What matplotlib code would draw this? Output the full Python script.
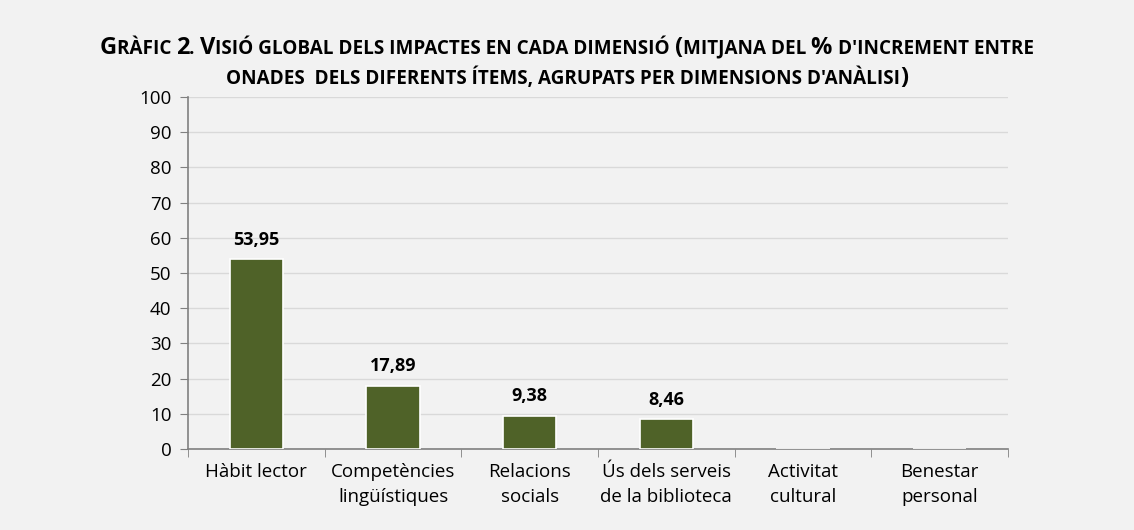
import numpy as np
import matplotlib.pyplot as plt
from matplotlib.offsetbox import TextArea, HPacker, AnchoredOffsetbox

# Data
categories = ["Hàbit lector", "Competències\nlingüístiques", "Relacions\nsocials",
              "Ús dels serveis\nde la biblioteca", "Activitat\ncultural", "Benestar\npersonal"]
values = [53.95, 17.89, 9.38, 8.46, 0, 0]
y_ticks = [0, 10, 20, 30, 40, 50, 60, 70, 80, 90, 100]

title_lines = [
    "Gràfic 2. Visió global dels impactes en cada dimensió (mitjana del % d'increment entre",
    "onades  dels diferents ítems, agrupats per dimensions d'anàlisi)",
]

bg = "#f2f2f2"
bar_color = "#4f6228"
font = "Open Sans"

fig = plt.figure(figsize=(11.34, 5.30), dpi=100, facecolor=bg)
ax = fig.add_axes([0.1658, 0.1528, 0.7231, 0.664], facecolor=bg)

x = np.arange(len(categories))
ax.bar(x, values, width=0.39, color=bar_color, edgecolor="white", linewidth=1.2, zorder=3)

for xi, v in zip(x, values):
    if v > 0:
        ax.text(xi, v + 3, f"{v:.2f}".replace(".", ","), ha="center", va="bottom",
                fontsize=13, fontweight="bold", family=font)

ax.set_xlim(-0.5, len(categories) - 0.5)
ax.set_ylim(0, 100)
ax.set_yticks(y_ticks)
ax.set_yticklabels([str(t) for t in y_ticks], fontsize=13.5, family=font)
ax.set_xticks(x)
ax.set_xticklabels(categories, fontsize=13.5, family=font, linespacing=1.5)
ax.tick_params(axis="x", length=0, pad=10)
ax.set_xticks(np.arange(-0.5, len(categories)), minor=True)
ax.tick_params(axis="x", which="minor", length=6, color="#808080", direction="out")
ax.tick_params(axis="y", length=6, color="#808080", pad=6)
ax.grid(axis="y", color="#d9d9d9", linewidth=1, zorder=0)
for s in ["top", "right"]:
    ax.spines[s].set_visible(False)
for s in ["left", "bottom"]:
    ax.spines[s].set_color("#808080")
    ax.spines[s].set_linewidth(1.2)


# Small caps title built from runs of text
def small_caps_row(text, big=17, small=13.6):
    runs = []
    cur = ""
    cur_upper = None
    for ch in text:
        is_up = ch.isupper() or ch.isdigit() or ch in "%()"
        if cur_upper is None or is_up == cur_upper or ch == " ":
            cur += ch
            if cur_upper is None and ch != " ":
                cur_upper = is_up
        else:
            runs.append((cur, cur_upper))
            cur = ch
            cur_upper = is_up
    runs.append((cur, cur_upper))
    boxes = []
    for t, up in runs:
        size = big if up else small
        boxes.append(TextArea(t if up else t.upper(),
                              textprops=dict(fontsize=size, fontweight="bold", family=font)))
    return HPacker(children=boxes, align="baseline", pad=0, sep=0)


for i, line in enumerate(title_lines):
    box = small_caps_row(line)
    anchored = AnchoredOffsetbox(loc="center", child=box, frameon=False,
                                 bbox_to_anchor=(0.5, 0.91 - i * 0.058),
                                 bbox_transform=fig.transFigure, pad=0, borderpad=0)
    fig.add_artist(anchored)

fig.savefig("out.png", dpi=100, facecolor=bg)
